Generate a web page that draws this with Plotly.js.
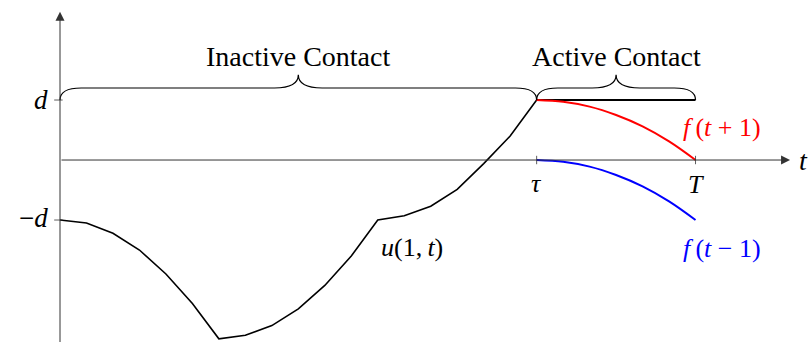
<!DOCTYPE html>
<html>
<head>
<meta charset="utf-8">
<script src="https://cdn.plot.ly/plotly-3.0.1.min.js"></script>
<style>
  html, body { margin: 0; padding: 0; background: #fff; }
  #chart { width: 810px; height: 342px; }
</style>
</head>
<body>
<div id="chart"></div>
<script>
// time grid of the displacement u(1,t)
var tGrid = [0, 1, 2, 3, 4, 5, 6, 7, 8, 9, 10, 11, 12, 13, 14, 15, 16, 17, 18];
var uVals = [-1, -1.05, -1.22, -1.5, -1.9, -2.39, -2.98, -2.92, -2.76, -2.48,
             -2.09, -1.6, -1.0, -0.93, -0.77, -0.49, -0.06, 0.4, 1.0];

// active contact part, tau .. T
var tActive = [18, 19, 20, 21, 22, 23, 24];
var fPlus = [1, 0.97, 0.89, 0.75, 0.56, 0.31, 0];
var fMinus = [0, -0.03, -0.11, -0.25, -0.44, -0.69, -1];

var tau = 18;
var T = 24;
var d = 1;
var dLine = [d, d];

var serif = 'Liberation Serif, Times New Roman, serif';

var data = [
  {
    x: tGrid, y: uVals, type: 'scatter', mode: 'lines',
    line: {color: 'black', width: 1.6}, hoverinfo: 'skip'
  },
  {
    x: [tau, T], y: dLine, type: 'scatter', mode: 'lines',
    line: {color: 'black', width: 2}, hoverinfo: 'skip'
  },
  {
    x: tActive, y: fPlus, type: 'scatter', mode: 'lines',
    line: {color: '#ff0000', width: 2, shape: 'spline'}, hoverinfo: 'skip'
  },
  {
    x: tActive, y: fMinus, type: 'scatter', mode: 'lines',
    line: {color: '#0000ff', width: 2, shape: 'spline'}, hoverinfo: 'skip'
  }
];

// curly brace between x0 and x1 sitting on level y
function brace(x0, x1, y) {
  var h = 0.2, tip = 0.42, r = 0.8, rc = 0.9;
  var m = (x0 + x1) / 2;
  var p = 'M ' + x0 + ',' + y +
    ' Q ' + x0 + ',' + (y + h) + ' ' + (x0 + r) + ',' + (y + h) +
    ' L ' + (m - rc) + ',' + (y + h) +
    ' Q ' + m + ',' + (y + h) + ' ' + m + ',' + (y + tip) +
    ' Q ' + m + ',' + (y + h) + ' ' + (m + rc) + ',' + (y + h) +
    ' L ' + (x1 - r) + ',' + (y + h) +
    ' Q ' + x1 + ',' + (y + h) + ' ' + x1 + ',' + y;
  return {type: 'path', xref: 'x', yref: 'y', path: p,
          line: {color: 'black', width: 1.2}};
}

var axisCol = '#333';
var shapes = [
  brace(0, tau, d),
  brace(tau, T, d),
  // ticks
  {type: 'line', xref: 'x', yref: 'y', x0: -0.22, x1: 0.1, y0: d, y1: d, line: {color: axisCol, width: 0.8}},
  {type: 'line', xref: 'x', yref: 'y', x0: -0.22, x1: 0.1, y0: -d, y1: -d, line: {color: axisCol, width: 0.8}},
  {type: 'line', xref: 'x', yref: 'y', x0: tau, x1: tau, y0: -0.07, y1: 0.07, line: {color: axisCol, width: 0.8}},
  {type: 'line', xref: 'x', yref: 'y', x0: T, x1: T, y0: -0.07, y1: 0.07, line: {color: axisCol, width: 0.8}}
];

function label(txt, x, y, size, color, opts) {
  var a = {text: txt, x: x, y: y, xref: 'x', yref: 'y', showarrow: false,
           font: {family: serif, size: size, color: color || 'black'}};
  for (var k in (opts || {})) a[k] = opts[k];
  return a;
}

var sp = '\u2005';
var annotations = [
  // axes with arrow heads
  {x: 0, y: 2.47, ax: 0, ay: -3.1, xref: 'x', yref: 'y', axref: 'x', ayref: 'y',
   text: '', showarrow: true, arrowhead: 2, arrowsize: 1.8, arrowwidth: 1, arrowcolor: axisCol},
  {x: 27.57, y: 0, ax: 0, ay: 0, xref: 'x', yref: 'y', axref: 'x', ayref: 'y',
   text: '', showarrow: true, arrowhead: 2, arrowsize: 1.8, arrowwidth: 1, arrowcolor: axisCol},
  label('Inactive Contact', tau / 2, 1.72, 28),
  label('Active Contact', (tau + T) / 2, 1.72, 28),
  label('<i>d</i>', 0, d, 27, 'black', {xanchor: 'right', xshift: -10}),
  label('\u2212<i>d</i>', 0, -d, 27, 'black', {xanchor: 'right', xshift: -10, yshift: 2}),
  label('<i>\u03c4</i>', tau, 0, 26, 'black', {yshift: -23}),
  label('<i>T</i>', T, 0, 26, 'black', {yshift: -24}),
  label('<i>t</i>', 28.06, 0, 28),
  label('<i>f</i>\u2009(<i>t</i>' + sp + '+' + sp + '1)', 25.0, 0.55, 26, '#ff0000'),
  label('<i>f</i>\u2009(<i>t</i>' + sp + '\u2212' + sp + '1)', 25.0, -1.47, 26, '#0000ff'),
  label('<i>u</i>(1,\u2009<i>t</i>)', 13.29, -1.45, 26)
];

var layout = {
  width: 810, height: 342,
  margin: {l: 0, r: 0, t: 0, b: 0},
  paper_bgcolor: 'white', plot_bgcolor: 'white',
  showlegend: false,
  xaxis: {range: [-2.266, 28.323], visible: false, fixedrange: true},
  yaxis: {range: [-3.033, 2.667], visible: false, fixedrange: true},
  shapes: shapes,
  annotations: annotations
};

Plotly.newPlot('chart', data, layout, {displayModeBar: false, staticPlot: true});
</script>
</body>
</html>
